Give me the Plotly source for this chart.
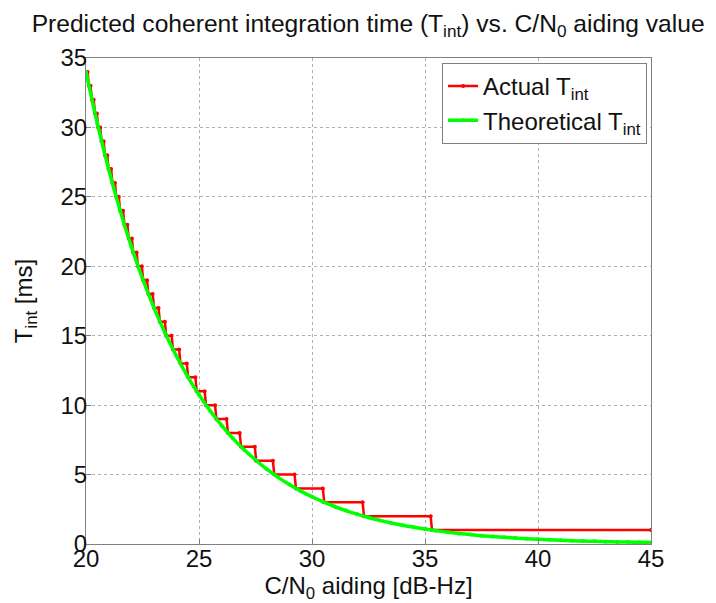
import plotly.graph_objects as go

# Actual T_int: integer levels and the C/N0 value where each level begins
step_levels = [34, 33, 32, 31, 30, 29, 28, 27, 26, 25, 24, 23, 22, 21, 20, 19, 18, 17,
               16, 15, 14, 13, 12, 11, 10, 9, 8, 7, 6, 5, 4, 3, 2, 1]
step_start = [20.00, 20.13, 20.26, 20.40, 20.54, 20.69, 20.84, 21.00, 21.17, 21.34, 21.51,
              21.70, 21.89, 22.09, 22.30, 22.53, 22.76, 23.01, 23.27, 23.55, 23.85, 24.18,
              24.52, 24.90, 25.31, 25.77, 26.28, 26.86, 27.53, 28.33, 29.29, 30.54, 32.30, 35.31]
x_end = 45

# Theoretical T_int
theo_cn0 = [20, 20.5, 21, 21.5, 22, 22.5, 23, 23.5, 24, 24.5, 25, 25.5, 26, 26.5, 27, 27.5,
            28, 28.5, 29, 29.5, 30, 30.5, 31, 31.5, 32, 32.5, 33, 33.5, 34, 34.5, 35, 35.5,
            36, 36.5, 37, 37.5, 38, 38.5, 39, 39.5, 40, 40.5, 41, 41.5, 42, 42.5, 43, 43.5,
            44, 44.5, 45]
theo_tint = [34, 30.30, 27.01, 24.07, 21.45, 19.12, 17.04, 15.19, 13.54, 12.06, 10.75, 9.58,
             8.54, 7.61, 6.78, 6.05, 5.39, 4.80, 4.28, 3.81, 3.40, 3.03, 2.70, 2.41, 2.15,
             1.91, 1.70, 1.52, 1.35, 1.21, 1.08, 0.96, 0.85, 0.76, 0.68, 0.60, 0.54, 0.48,
             0.43, 0.38, 0.34, 0.30, 0.27, 0.24, 0.21, 0.19, 0.17, 0.15, 0.14, 0.12, 0.11]

ax_x, ax_y = [], []
for i, lvl in enumerate(step_levels):
    s = step_start[i]
    e = step_start[i + 1] - 0.06 if i + 1 < len(step_start) else x_end
    ax_x += [s, e]
    ax_y += [lvl, lvl]

FONT = "Liberation Sans, Arial, sans-serif"
FS = 24

fig = go.Figure()
fig.add_trace(go.Scatter(
    x=ax_x, y=ax_y, mode="lines+markers", name="Actual T<sub>int</sub>",
    line=dict(color="#ff0000", width=2.5), marker=dict(color="#ff0000", size=4)))
fig.add_trace(go.Scatter(
    x=theo_cn0, y=theo_tint, mode="lines+markers", name="Theoretical T<sub>int</sub>",
    line=dict(color="#00ff00", width=3.5, shape="spline"), marker=dict(color="#00ff00", size=4)))

axis_common = dict(
    showline=True, linecolor="#808080", linewidth=1, mirror=True,
    ticks="inside", ticklen=5, tickcolor="#808080",
    showgrid=True, gridcolor="#b0b0b0", griddash="dot", gridwidth=1,
    zeroline=False, automargin=False,
    tickfont=dict(family=FONT, size=FS, color="#111111"),
)

fig.update_layout(
    width=716, height=603,
    margin=dict(l=78, r=73, t=50, b=67),
    paper_bgcolor="white", plot_bgcolor="white",
    font=dict(family=FONT, size=FS, color="#111111"),
    title=dict(text="Predicted coherent integration time (T<sub>int</sub>) vs. C/N<sub>0</sub> aiding value",
               x=0.503, xanchor="center", y=0.989, yanchor="top",
               font=dict(family=FONT, size=24.6, color="#111111")),
    xaxis=dict(range=[20, 45], tickvals=[20, 25, 30, 35, 40, 45], ticklabelstandoff=-7,
               title=dict(text="C/N<sub>0</sub> aiding [dB-Hz]", standoff=0,
                          font=dict(family=FONT, size=FS)), **axis_common),
    yaxis=dict(range=[0, 35], tickvals=[0, 5, 10, 15, 20, 25, 30, 35], ticklabelstandoff=-7,
               title=dict(text="T<sub>int</sub> [ms]", standoff=21,
                          font=dict(family=FONT, size=FS)), **axis_common),
    legend=dict(x=0.993, y=0.99, xanchor="right", yanchor="top",
                bgcolor="white", bordercolor="#808080", borderwidth=1,
                font=dict(family=FONT, size=FS, color="#111111"),
                itemwidth=30),
    showlegend=True,
)

fig.write_html("out.html")
